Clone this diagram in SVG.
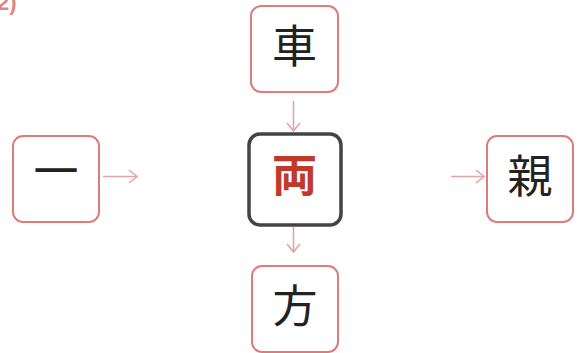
<svg xmlns="http://www.w3.org/2000/svg" width="580" height="353" viewBox="0 0 580 353">
<style>
.box{fill:#fff;stroke:#e07b7b;stroke-width:2}
.main{fill:#fff;stroke:#444;stroke-width:3.5}
.ch{font-family:"Noto Sans CJK JP","Noto Sans CJK SC",sans-serif;font-size:45px;fill:#222;text-anchor:middle}
.chm{font-family:"Noto Sans CJK JP","Noto Sans CJK SC",sans-serif;font-size:45px;font-weight:bold;fill:#c0392b;text-anchor:middle}
.arr{stroke:#e5a3a3;stroke-width:1.6;fill:none}
</style>
<defs>
<marker id="ah" viewBox="0 0 10 16" refX="9" refY="8" markerWidth="10" markerHeight="16" markerUnits="userSpaceOnUse" orient="auto">
<path d="M1,1.5 L9,8 L1,14.5" fill="none" stroke="#e5a3a3" stroke-width="1.6"/>
</marker>
</defs>
<text x="-3" y="10" font-family="Liberation Sans, sans-serif" font-size="22" font-weight="bold" fill="#e08585">2)</text>
<g id="connectors">
<line class="arr" x1="293.5" y1="101" x2="293.5" y2="131" marker-end="url(#ah)"/>
<line class="arr" x1="293.5" y1="227" x2="293.5" y2="252" marker-end="url(#ah)"/>
<line class="arr" x1="103" y1="176.5" x2="137" y2="176.5" marker-end="url(#ah)"/>
<line class="arr" x1="451" y1="176.5" x2="484" y2="176.5" marker-end="url(#ah)"/>
</g>
<g id="node-top"><rect class="box" x="251" y="6" width="87" height="86" rx="10"/><text class="ch" x="294.5" y="63">車</text></g>
<g id="node-center"><rect class="main" x="249" y="134" width="92" height="91" rx="11"/><text class="chm" x="294.5" y="192">両</text></g>
<g id="node-left"><rect class="box" x="13" y="136" width="86" height="86" rx="10"/><text class="ch" x="56" y="188">一</text></g>
<g id="node-right"><rect class="box" x="487" y="136" width="86" height="86" rx="10"/><text class="ch" x="530" y="193">親</text></g>
<g id="node-bottom"><rect class="box" x="252" y="266" width="86" height="86" rx="10"/><text class="ch" x="295" y="323">方</text></g>
</svg>
